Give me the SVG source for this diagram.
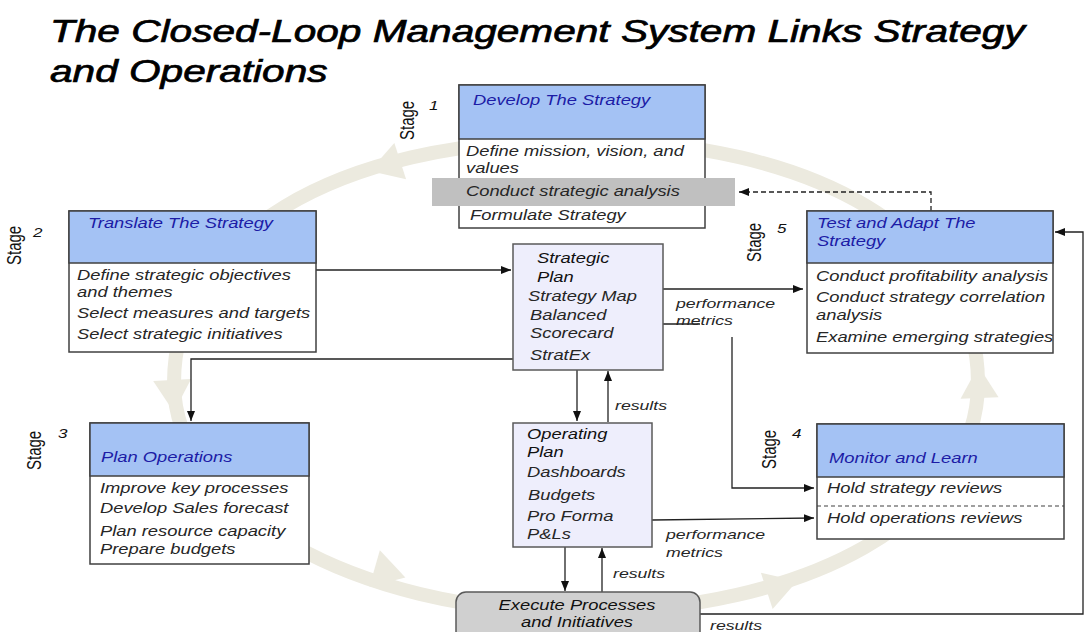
<svg xmlns="http://www.w3.org/2000/svg" width="1085" height="632" viewBox="0 0 1085 632">
<defs>
<style>
text{font-family:"Liberation Sans",Arial,sans-serif;font-style:italic}
.title{font-size:31px;fill:#000;stroke:#000;stroke-width:0.7}
.hd{font-size:14px;fill:#1c1ca6}
.bd{font-size:14px;fill:#262626}
.pl{font-size:14px;fill:#111}
.lb{font-size:13.5px;fill:#262626}
.stg{font-size:15px;font-style:normal;fill:#111}
.num{font-size:13px;fill:#111}
.box{fill:#fff;stroke:#404040;stroke-width:1.5}
.head{fill:#a4c2f4;stroke:#404040;stroke-width:1.5}
.plan{fill:#eeeefc;stroke:#5a5a5a;stroke-width:1.5}
.ring{fill:none;stroke:#eceadf;stroke-width:14}
.ah{fill:#eceadf}
.con{fill:none;stroke:#222;stroke-width:1.3}
</style>
<marker id="arr" viewBox="0 0 10 8" markerWidth="10" markerHeight="8" refX="10" refY="4" orient="auto" markerUnits="userSpaceOnUse">
<path d="M0,0 L10,4 L0,8 Z" fill="#111"/>
</marker>
<path id="ringhead" d="M-16,-19 L16,0 L-16,19 Z"/>
</defs>
<rect width="1085" height="632" fill="#fff"/>

<g id="cycle">
<path class="ring" d="M174,383 C174,237 335,140 576,140 C817,140 978,237 978,383 C978,516 809,612 576,612 C355,612 174,509 174,383 Z"/>
<use href="#ringhead" class="ah" transform="translate(385,166) rotate(162)"/>
<use href="#ringhead" class="ah" transform="translate(173,396) rotate(87)"/>
<use href="#ringhead" class="ah" transform="translate(390,573) rotate(16)"/>
<use href="#ringhead" class="ah" transform="translate(782,586) rotate(-18)"/>
<use href="#ringhead" class="ah" transform="translate(979,382) rotate(-92)"/>
</g>

<g id="title">
<text class="title" transform="translate(50,42) scale(1.31,1)">The Closed-Loop Management System Links Strategy</text>
<text class="title" transform="translate(50,82) scale(1.31,1)">and Operations</text>
</g>

<g id="connectors">
<path class="con" d="M316,270 H511" marker-end="url(#arr)"/>
<path class="con" d="M513,359 H191 V421" marker-end="url(#arr)"/>
<path class="con" d="M663,289 H803" marker-end="url(#arr)"/>
<path class="con" d="M663,324 H700 M732,337 V488 H814" marker-end="url(#arr)"/>
<path class="con" d="M577,370 V421" marker-end="url(#arr)"/>
<path class="con" d="M608,422 V371" marker-end="url(#arr)"/>
<path class="con" d="M652,520 L814,518" marker-end="url(#arr)"/>
<path class="con" d="M565,547 V591" marker-end="url(#arr)"/>
<path class="con" d="M602,592 V548" marker-end="url(#arr)"/>
<path class="con" d="M700,614 H1083 V232 H1055" marker-end="url(#arr)"/>
<path class="con" d="M931,211 V192 H739" stroke-dasharray="5,3" marker-end="url(#arr)"/>
</g>

<g id="labels">
<text class="lb" transform="translate(615,410) scale(1.31,1)">results</text>
<text class="lb" transform="translate(676,308) scale(1.31,1)">performance</text>
<text class="lb" transform="translate(676,325) scale(1.31,1)">metrics</text>
<text class="lb" transform="translate(666,539) scale(1.31,1)">performance</text>
<text class="lb" transform="translate(666,557) scale(1.31,1)">metrics</text>
<text class="lb" transform="translate(613,578) scale(1.31,1)">results</text>
<text class="lb" transform="translate(710,630) scale(1.31,1)">results</text>
</g>

<g id="stage1">
<rect class="box" x="459" y="85" width="246" height="143"/>
<rect class="head" x="459" y="85" width="246" height="54"/>
<text class="hd" transform="translate(473,105) scale(1.31,1)">Develop The Strategy</text>
<text class="bd" transform="translate(466,156) scale(1.31,1)">Define mission, vision, and</text>
<text class="bd" transform="translate(466,173) scale(1.31,1)">values</text>
<rect x="432" y="178" width="303" height="28" fill="#c0c0c0"/>
<text class="bd" transform="translate(466,196) scale(1.31,1)">Conduct strategic analysis</text>
<text class="bd" transform="translate(470,220) scale(1.31,1)">Formulate Strategy</text>
<text class="stg" transform="translate(414,140) scale(1.31,1) rotate(-90)">Stage</text>
<text class="num" transform="translate(429,110) scale(1.31,1)">1</text>
</g>

<g id="stage2">
<rect class="box" x="69" y="211" width="247" height="141"/>
<rect class="head" x="69" y="211" width="247" height="52"/>
<text class="hd" transform="translate(88,228) scale(1.31,1)">Translate The Strategy</text>
<text class="bd" transform="translate(77,280) scale(1.31,1)">Define strategic objectives</text>
<text class="bd" transform="translate(77,297) scale(1.31,1)">and themes</text>
<text class="bd" transform="translate(77,318) scale(1.31,1)">Select measures and targets</text>
<text class="bd" transform="translate(77,339) scale(1.31,1)">Select strategic initiatives</text>
<text class="stg" transform="translate(21,265) scale(1.31,1) rotate(-90)">Stage</text>
<text class="num" transform="translate(33,237) scale(1.31,1)">2</text>
</g>

<g id="stage3">
<rect class="box" x="90" y="423" width="219" height="141"/>
<rect class="head" x="90" y="423" width="219" height="53"/>
<text class="hd" transform="translate(101,462) scale(1.31,1)">Plan Operations</text>
<text class="bd" transform="translate(100,493) scale(1.31,1)">Improve key processes</text>
<text class="bd" transform="translate(100,513) scale(1.31,1)">Develop Sales forecast</text>
<text class="bd" transform="translate(100,536) scale(1.31,1)">Plan resource capacity</text>
<text class="bd" transform="translate(100,554) scale(1.31,1)">Prepare budgets</text>
<text class="stg" transform="translate(41,470) scale(1.31,1) rotate(-90)">Stage</text>
<text class="num" transform="translate(58,438) scale(1.31,1)">3</text>
</g>

<g id="stage4">
<rect class="box" x="817" y="424" width="247" height="115"/>
<rect class="head" x="817" y="424" width="247" height="53"/>
<text class="hd" transform="translate(829,463) scale(1.31,1)">Monitor and Learn</text>
<text class="bd" transform="translate(827,493) scale(1.31,1)">Hold strategy reviews</text>
<line x1="817" y1="506" x2="1064" y2="506" stroke="#404040" stroke-width="1.2" stroke-dasharray="4,3"/>
<text class="bd" transform="translate(827,523) scale(1.31,1)">Hold operations reviews</text>
<text class="stg" transform="translate(776,469) scale(1.31,1) rotate(-90)">Stage</text>
<text class="num" transform="translate(792,438) scale(1.31,1)">4</text>
</g>

<g id="stage5">
<rect class="box" x="807" y="211" width="246" height="142"/>
<rect class="head" x="807" y="211" width="246" height="52"/>
<text class="hd" transform="translate(817,228) scale(1.31,1)">Test and Adapt The</text>
<text class="hd" transform="translate(817,246) scale(1.31,1)">Strategy</text>
<text class="bd" transform="translate(816,281) scale(1.31,1)">Conduct profitability analysis</text>
<text class="bd" transform="translate(816,302) scale(1.31,1)">Conduct strategy correlation</text>
<text class="bd" transform="translate(816,320) scale(1.31,1)">analysis</text>
<text class="bd" transform="translate(816,342) scale(1.31,1)">Examine emerging strategies</text>
<text class="stg" transform="translate(761,262) scale(1.31,1) rotate(-90)">Stage</text>
<text class="num" transform="translate(777,233) scale(1.31,1)">5</text>
</g>

<g id="strategic-plan">
<rect class="plan" x="513" y="244" width="150" height="126"/>
<text class="pl" transform="translate(537,263) scale(1.31,1)">Strategic</text>
<text class="pl" transform="translate(537,282) scale(1.31,1)">Plan</text>
<text class="bd" transform="translate(528,301) scale(1.31,1)">Strategy Map</text>
<text class="bd" transform="translate(530,320) scale(1.31,1)">Balanced</text>
<text class="bd" transform="translate(530,338) scale(1.31,1)">Scorecard</text>
<text class="bd" transform="translate(530,360) scale(1.31,1)">StratEx</text>
</g>

<g id="operating-plan">
<rect class="plan" x="513" y="423" width="139" height="124"/>
<text class="pl" transform="translate(527,439) scale(1.31,1)">Operating</text>
<text class="pl" transform="translate(527,457) scale(1.31,1)">Plan</text>
<text class="bd" transform="translate(527,477) scale(1.31,1)">Dashboards</text>
<text class="bd" transform="translate(528,500) scale(1.31,1)">Budgets</text>
<text class="bd" transform="translate(527,521) scale(1.31,1)">Pro Forma</text>
<text class="bd" transform="translate(527,539) scale(1.31,1)">P&amp;Ls</text>
</g>

<g id="execute">
<rect x="456" y="592" width="244" height="60" rx="10" fill="#d0d0d0" stroke="#5a5a5a" stroke-width="1.5"/>
<text class="pl" text-anchor="middle" transform="translate(577,610) scale(1.31,1)">Execute Processes</text>
<text class="pl" text-anchor="middle" transform="translate(577,627) scale(1.31,1)">and Initiatives</text>
</g>
</svg>
